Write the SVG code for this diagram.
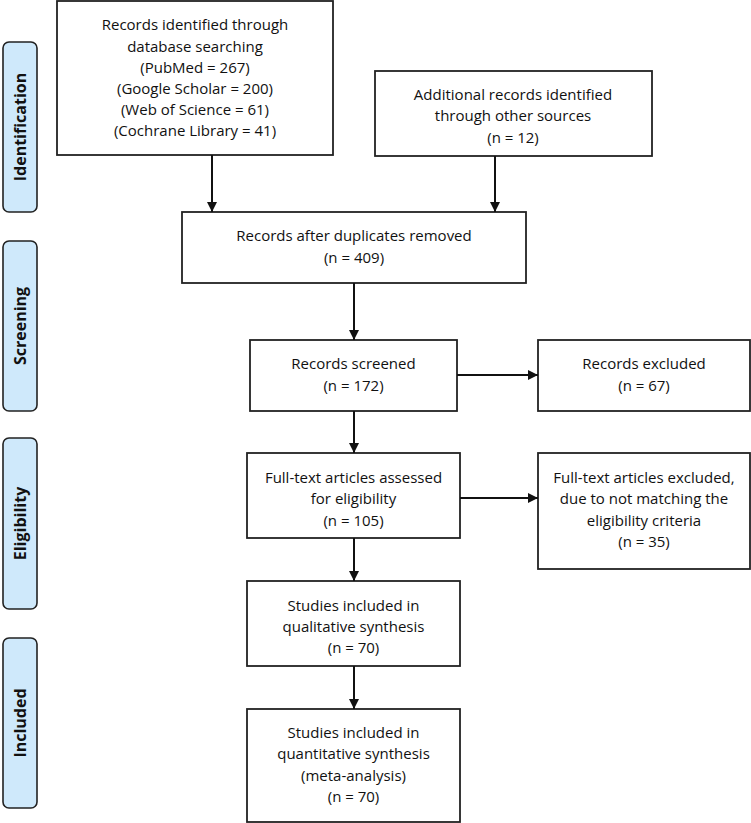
<svg xmlns="http://www.w3.org/2000/svg" width="751" height="823" viewBox="0 0 751 823">
<style>
.box{fill:#fff;stroke:#222;stroke-width:1.8}
.side{fill:#cfe9fb;stroke:#222;stroke-width:1.6}
.t{font-family:"Open Sans","Liberation Sans",sans-serif;font-size:15px;fill:#111;text-anchor:middle}
.s{font-family:"Open Sans","Liberation Sans",sans-serif;font-size:16px;font-weight:bold;fill:#111;text-anchor:middle}
.c{stroke:#111;stroke-width:2;fill:none;marker-end:url(#ah)}
</style>
<defs>
<marker id="ah" viewBox="0 0 10 10" refX="10" refY="5" markerWidth="5" markerHeight="5" orient="auto" markerUnits="strokeWidth">
<path d="M0,0 L10,5 L0,10 z" fill="#111"/>
</marker>
</defs>
<rect width="751" height="823" fill="#fff"/>
<g id="side-identification"><rect class="side" x="3" y="42" width="34" height="170" rx="6"/><text class="s" transform="translate(26,127) rotate(-90)">Identification</text></g>
<g id="side-screening"><rect class="side" x="3" y="241" width="34" height="170" rx="6"/><text class="s" transform="translate(26,326) rotate(-90)">Screening</text></g>
<g id="side-eligibility"><rect class="side" x="3" y="438" width="34" height="171" rx="6"/><text class="s" transform="translate(26,523.5) rotate(-90)">Eligibility</text></g>
<g id="side-included"><rect class="side" x="3" y="638" width="34" height="170" rx="6"/><text class="s" transform="translate(26,723) rotate(-90)">Included</text></g>
<g id="n-db"><rect class="box" x="57" y="1" width="276" height="154"/>
<text class="t" x="195" y="30">Records identified through</text>
<text class="t" x="195" y="51.5">database searching</text>
<text class="t" x="195" y="72.5">(PubMed = 267)</text>
<text class="t" x="195" y="94">(Google Scholar = 200)</text>
<text class="t" x="195" y="115">(Web of Science = 61)</text>
<text class="t" x="195" y="136">(Cochrane Library = 41)</text></g>
<g id="n-other"><rect class="box" x="375" y="71" width="277" height="85"/>
<text class="t" x="513" y="100">Additional records identified</text>
<text class="t" x="513" y="121">through other sources</text>
<text class="t" x="513" y="142.5">(n = 12)</text></g>
<g id="n-dup"><rect class="box" x="182" y="212" width="344" height="71"/>
<text class="t" x="354" y="241">Records after duplicates removed</text>
<text class="t" x="354" y="262.5">(n = 409)</text></g>
<g id="n-screened"><rect class="box" x="250" y="340" width="207" height="71"/>
<text class="t" x="353.5" y="369">Records screened</text>
<text class="t" x="353.5" y="391">(n = 172)</text></g>
<g id="n-excl"><rect class="box" x="538" y="340" width="212" height="71"/>
<text class="t" x="644" y="369">Records excluded</text>
<text class="t" x="644" y="391">(n = 67)</text></g>
<g id="n-full"><rect class="box" x="247" y="453" width="213" height="85"/>
<text class="t" x="353.5" y="482.5">Full-text articles assessed</text>
<text class="t" x="353.5" y="504">for eligibility</text>
<text class="t" x="353.5" y="526">(n = 105)</text></g>
<g id="n-fullexcl"><rect class="box" x="538" y="453" width="212" height="116"/>
<text class="t" x="644" y="482.5">Full-text articles excluded,</text>
<text class="t" x="644" y="504">due to not matching the</text>
<text class="t" x="644" y="525.5">eligibility criteria</text>
<text class="t" x="644" y="546.5">(n = 35)</text></g>
<g id="n-qual"><rect class="box" x="247" y="581" width="213" height="85"/>
<text class="t" x="353.5" y="611">Studies included in</text>
<text class="t" x="353.5" y="632">qualitative synthesis</text>
<text class="t" x="353.5" y="653">(n = 70)</text></g>
<g id="n-quant"><rect class="box" x="247" y="709" width="213" height="113"/>
<text class="t" x="353.5" y="737.5">Studies included in</text>
<text class="t" x="353.5" y="759">quantitative synthesis</text>
<text class="t" x="353.5" y="780.5">(meta-analysis)</text>
<text class="t" x="353.5" y="802">(n = 70)</text></g>
<g id="connectors">
<line class="c" x1="212" y1="155" x2="212" y2="212"/>
<line class="c" x1="495" y1="156" x2="495" y2="212"/>
<line class="c" x1="354" y1="283" x2="354" y2="340"/>
<line class="c" x1="457" y1="375" x2="538" y2="375"/>
<line class="c" x1="354" y1="411" x2="354" y2="453"/>
<line class="c" x1="460" y1="498" x2="538" y2="498"/>
<line class="c" x1="354" y1="538" x2="354" y2="581"/>
<line class="c" x1="354" y1="666" x2="354" y2="709"/>
</g>
</svg>
